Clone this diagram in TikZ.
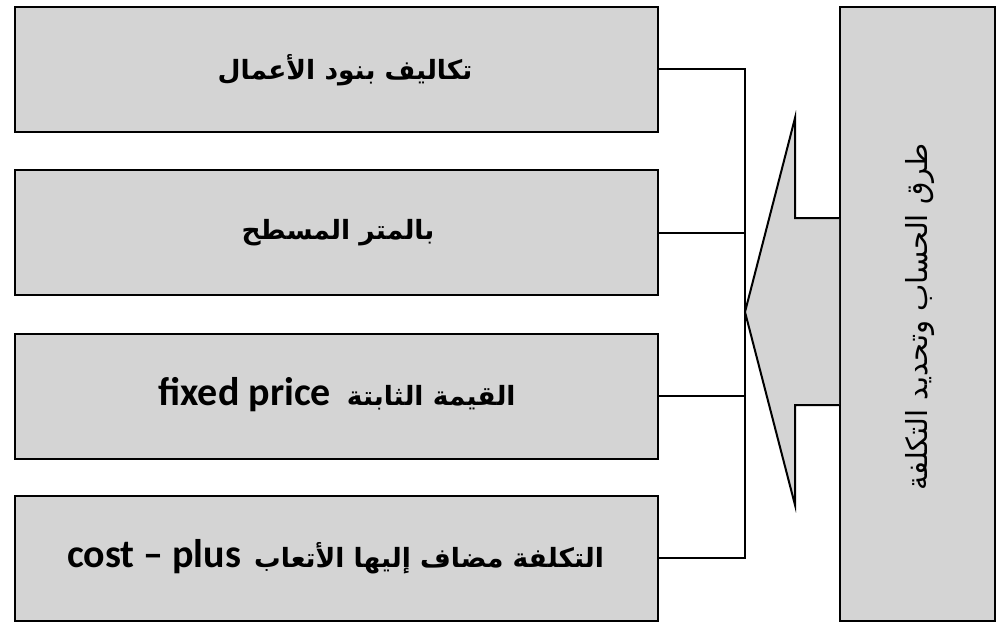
\documentclass[tikz,border=0pt]{standalone}
\usepackage{fontspec}
\TeXXeTstate=1
\newfontfamily\arabicfont[Script=Arabic]{DejaVu Sans}
\newfontfamily\latinfont{Carlito}
\definecolor{boxgray}{RGB}{212,212,212}
\newcommand{\arbig}{\arabicfont\bfseries\fontsize{26.5}{30}\selectfont}
\newcommand{\latbig}{\latinfont\bfseries\fontsize{40}{44}\selectfont}
\begin{document}
\begin{tikzpicture}[x=1pt,y=-1pt,
  itembox/.style={draw=black, fill=boxgray, line width=2pt, minimum width=643pt,
    minimum height=125pt, inner sep=0pt, anchor=center},
  headbox/.style={draw=black, fill=boxgray, line width=2pt, minimum width=155pt,
    minimum height=614pt, inner sep=0pt, anchor=center},
  itemtext/.style={inner sep=0pt, font=\arbig},
  wire/.style={line width=2pt, line cap=rect},
  bigarrow/.style={draw=black, fill=boxgray, line width=2pt, line join=miter}]
\useasboundingbox (0,0) rectangle (1001,623);

% method boxes on the left
\node[itembox] (b1) at (336.5,69.5) {};
\node[itembox] (b2) at (336.5,232.5) {};
\node[itembox] (b3) at (336.5,396) {};
\node[itembox] (b4) at (336.5,558) {};

\node[itemtext] (t1) at (345,70) {\beginR تكاليف بنود الأعمال\endR};
\node[itemtext] (t2) at (338,233) {\beginR بالمتر المسطح\endR};
\node[inner sep=0pt] (t3) at (337,395) {\latbig fixed price\hspace{16pt}\arbig\beginR القيمة الثابتة\endR};
\node[inner sep=0pt] (t4) at (335.5,557) {\latbig cost – plus\hspace{13pt}\arbig\beginR التكلفة مضاف إليها الأتعاب\endR};

% heading box on the right
\node[headbox] (main) at (917.5,314) {};
\node[rotate=90, inner sep=0pt, font=\arabicfont\fontsize{29}{34}\selectfont] (mt) at (920,317) {\beginR طرق الحساب وتحديد التكلفة\endR};

% block arrow pointing from the heading to the bus
\coordinate (tip) at (745,312);
\draw[bigarrow] (main.west |- 0,218) -- (795,218) -- (795,118) -- (tip)
  -- (795,505) -- (795,405) -- (main.west |- 0,405);

% bus connecting the method boxes
\coordinate (jx) at (745,0);
\draw[wire] (b1.east) -- (b1.east -| jx) -- (b4.east -| jx) -- (b4.east);
\draw[wire] (b2.east) -- (b2.east -| jx);
\draw[wire] (b3.east) -- (b3.east -| jx);
\end{tikzpicture}
\end{document}
